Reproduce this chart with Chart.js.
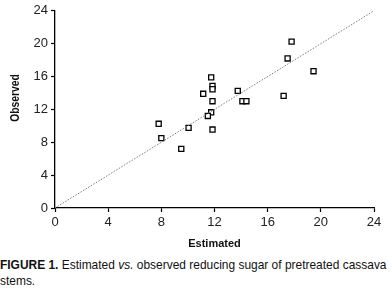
<!DOCTYPE html>
<html><head><meta charset="utf-8">
<script src="https://cdn.jsdelivr.net/npm/chart.js@4/dist/chart.umd.min.js"></script>
<style>
html,body{margin:0;padding:0;background:#fff;width:391px;height:294px;overflow:hidden;}
#wrap{position:absolute;left:0;top:0;width:391px;height:255px;}
#cap{position:absolute;left:0;top:257px;width:450px;transform:scaleX(0.885);transform-origin:0 0;font-family:"Liberation Sans",Arial,sans-serif;font-size:13.5px;line-height:16px;color:#111;white-space:nowrap;}
</style></head><body>
<div id="wrap"><canvas id="c" width="391" height="255"></canvas></div>
<div id="cap"><b>FIGURE 1.</b> Estimated <i>vs.</i> observed reducing sugar of pretreated cassava<br>stems.</div>
<script>
const estimated = [17.8, 17.5, 19.45, 11.75, 11.85, 11.85, 11.15, 13.75, 17.2, 11.85, 14.1, 14.4, 11.75, 11.5, 7.8, 10.05, 11.85, 8.0, 9.5];
const observed  = [20.25, 18.2, 16.65, 15.9, 14.85, 14.45, 13.9, 14.25, 13.65, 13.0, 13.0, 13.0, 11.65, 11.2, 10.25, 9.75, 9.55, 8.5, 7.2];
const lineX = [0, 24];
const lineY = [0, 24];
const tickValues = [0, 4, 8, 12, 16, 20, 24];
const xTitle = "Estimated";
const yTitle = "Observed";

const FONT = '"Liberation Sans",Arial,sans-serif';
const pts = estimated.map((x, i) => ({x: x, y: observed[i]}));
const diag = lineX.map((x, i) => ({x: x, y: lineY[i]}));

const yTitlePlugin = {
  id: 'yTitlePlugin',
  afterDraw(chart) {
    const ctx = chart.ctx;
    ctx.save();
    ctx.translate(16, 98);
    ctx.rotate(-Math.PI / 2);
    ctx.scale(0.86, 1);
    ctx.font = 'bold 12px ' + FONT;
    ctx.fillStyle = '#111';
    ctx.textAlign = 'center';
    ctx.textBaseline = 'middle';
    ctx.fillText(yTitle, 0, 0);
    ctx.restore();
  }
};

new Chart(document.getElementById('c'), {
  type: 'scatter',
  data: {
    datasets: [
      {type: 'line', data: diag, borderColor: '#7a7a7a', borderWidth: 1, borderDash: [1.5, 1.5], pointRadius: 0, fill: false},
      {data: pts, pointStyle: 'rect', pointRadius: 3.6, borderColor: '#000', backgroundColor: '#fff', pointBorderWidth: 1.3}
    ]
  },
  plugins: [yTitlePlugin],
  options: {
    animation: false, responsive: false,
    layout: {padding: {top: 6, right: 17, left: 0, bottom: 0}},
    plugins: {legend: {display: false}, tooltip: {enabled: false}},
    scales: {
      x: {
        type: 'linear', min: 0, max: 24,
        afterBuildTicks: s => { s.ticks = tickValues.map(v => ({value: v})); },
        afterFit: s => { s.height = 47; },
        grid: {display: true, drawOnChartArea: false, drawTicks: true, tickLength: 4, color: '#000', tickWidth: 1.2},
        border: {display: true, color: '#000', width: 1.3},
        ticks: {color: '#222', font: {family: FONT, size: 13}, padding: 3, maxRotation: 0},
        title: {display: true, text: xTitle, color: '#111', font: {family: FONT, size: 11, weight: 'bold'}, padding: {top: 3}}
      },
      y: {
        type: 'linear', min: 0, max: 24,
        afterBuildTicks: s => { s.ticks = tickValues.map(v => ({value: v})); },
        afterFit: s => { s.width = 55; },
        grid: {display: true, drawOnChartArea: false, drawTicks: true, tickLength: 4, color: '#000', tickWidth: 1.2},
        border: {display: true, color: '#000', width: 1.3},
        ticks: {color: '#222', font: {family: FONT, size: 13}, padding: 3},
        title: {display: false}
      }
    }
  }
});
</script>
</body></html>
